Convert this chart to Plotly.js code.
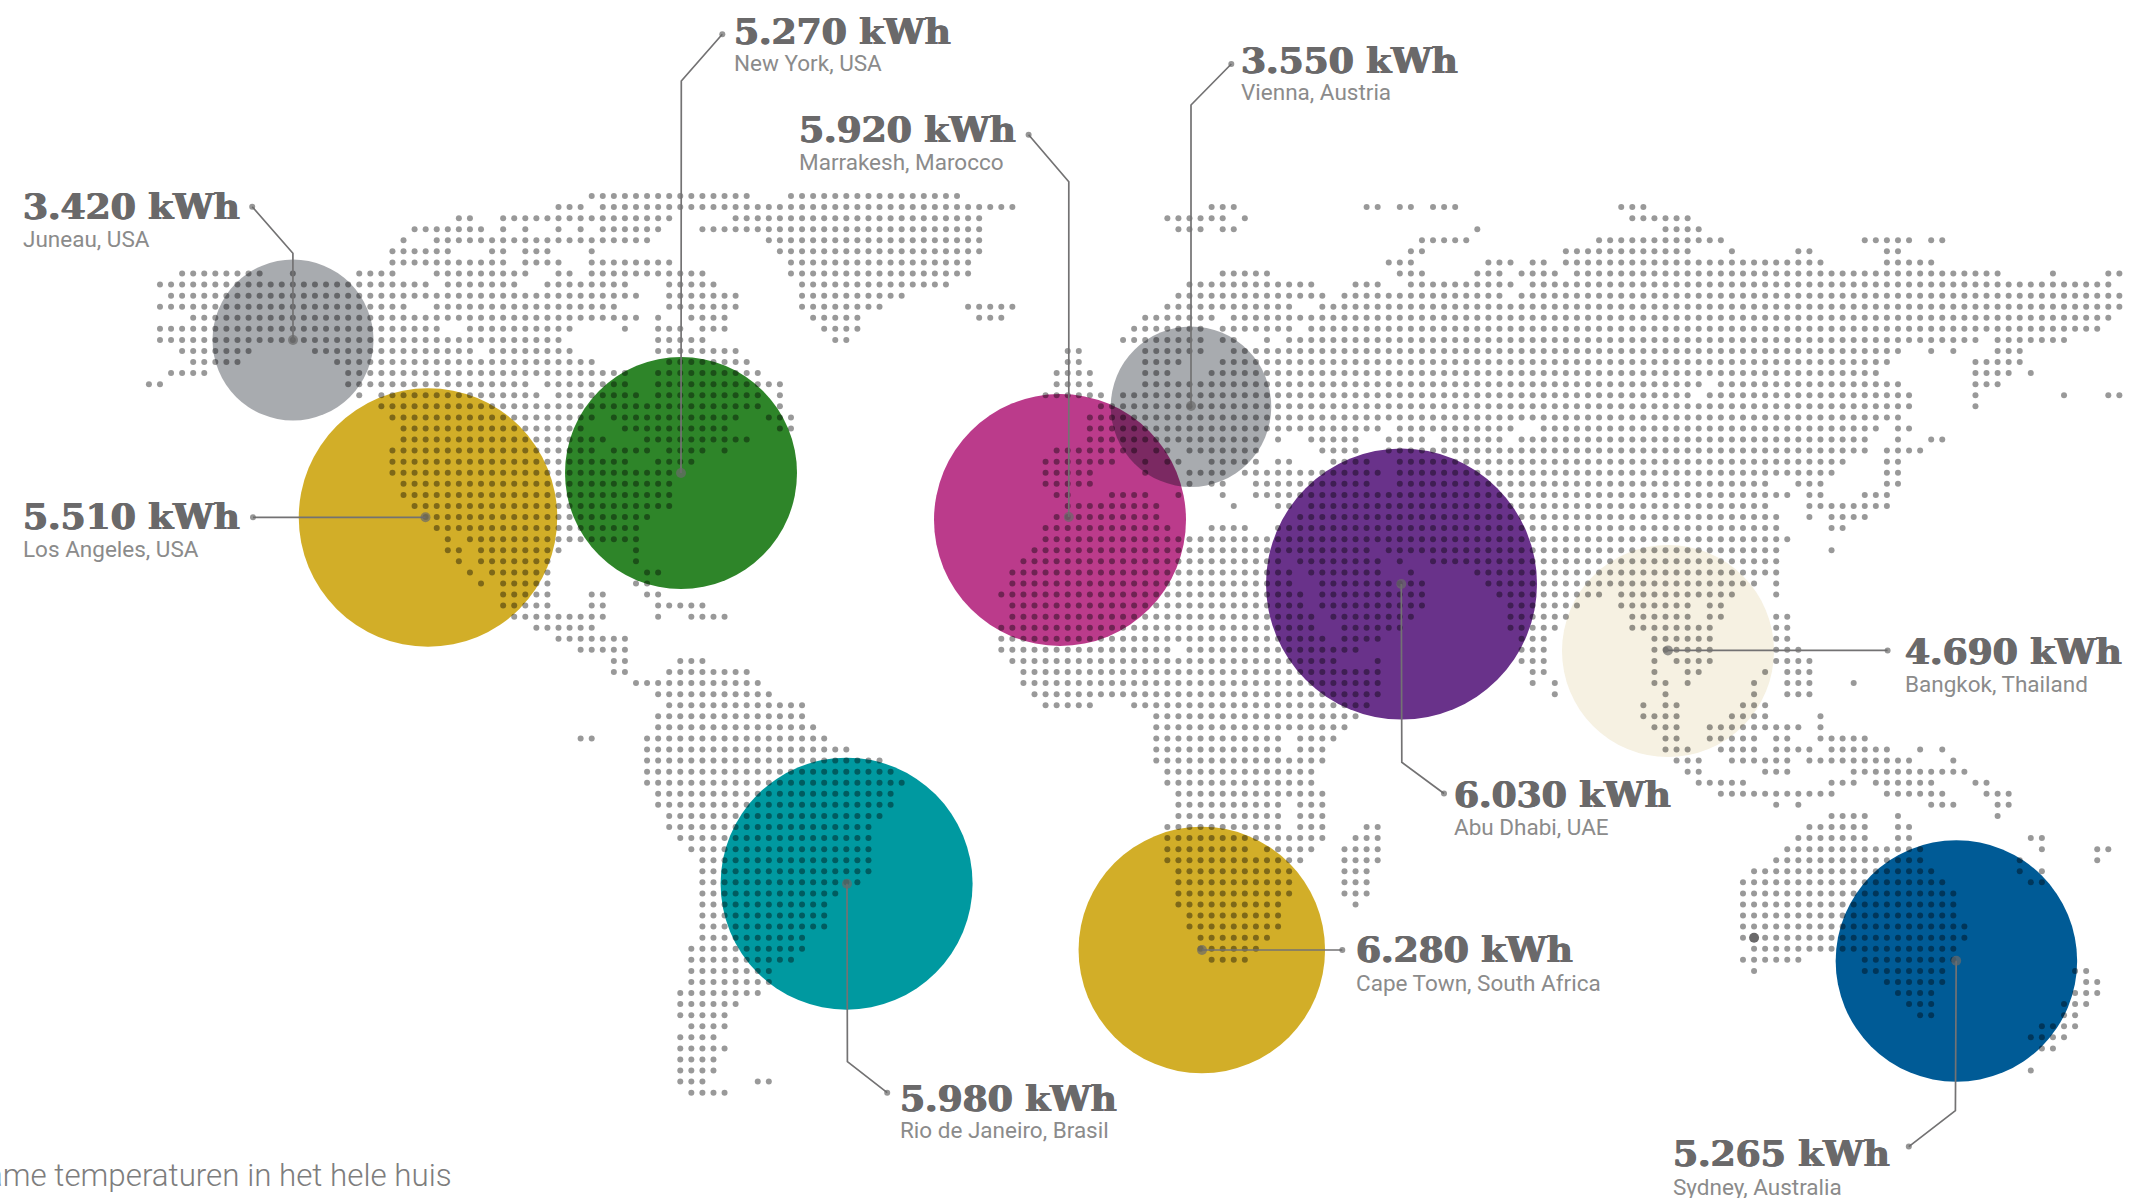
<!DOCTYPE html>
<html><head><meta charset="utf-8">
<script src="https://cdn.plot.ly/plotly-3.0.1.min.js"></script>
<style>html,body{margin:0;padding:0;background:#fff;overflow:hidden}#chart{width:2129px;height:1198px}</style>
</head><body><div id="chart"></div>
<script>
// Energy use per city
const cityNames = ["Juneau, USA","New York, USA","Marrakesh, Marocco","Vienna, Austria","Los Angeles, USA","Rio de Janeiro, Brasil","Cape Town, South Africa","Abu Dhabi, UAE","Bangkok, Thailand","Sydney, Australia"];
const cityKwh = [3420,5270,5920,3550,5510,5980,6280,6030,4690,5265];
const footerText = "ame temperaturen in het hele huis";

// bubble placement, size and colour, drawn back to front
const bubbleX = [293,681,1060,1191,428,846.6,1201.8,1401.5,1668,1956.4];
const bubbleY = [340,473,520,406.7,517.5,883.7,950,584,651,961];
const bubbleD = [161,232,252,160.5,258.5,252,246.5,271,212,241.5];
const bubbleColor = ["rgba(0,8,20,0.34)","#2e8529","#bb3b8b","rgba(0,8,20,0.34)","#d2ae28","#0099a0","#d2ae28","#69328a","#f6f1e2","#005b96"];

// leader lines: label end, optional bend, node in the bubble
const leaderX = [[252.2,292.9,293],[722.3,681.3,681],[1028.6,1068.8,1068.8],[1231.3,1191,1191],[253,425.5],[887.2,847.4,847],[1342.3,1202],[1444,1401.8,1401.3],[1887.6,1667.9],[1908.8,1955.4,1956.2]];
const leaderY = [[206.7,253.3,340],[34.3,81,473],[134.7,181.7,517],[64,105,406],[517.3,517.3],[1092.7,1061.7,883.7],[950,950],[793.5,762.3,584],[650.4,650.4],[1146.6,1110.7,960.7]];

// label placement: left edge and text baselines
const labelX = [22,733.2,797.9,1239.9,22,898.5,1354.5,1452.5,1903.9,1672.2];
const valueBase = [219,44,142,73,529.5,1111.7,962.5,807,664.5,1166.5];
const placeBase = [246.7,70.7,169,99.8,556,1137.7,990,834.7,691,1194.7];

// dot map: runs of occupied grid columns, one string per grid row
const gridLeft = 5, gridTop = 196, gridPitch = 11.07;
const mapRows = [
"53-67 71-86",
"50-52 54-91 109-111 123-124 126-127 129-131 146-148",
"41-42 45-60 66-88 105-110 112 147-152",
"37-43 45 47 50 52 54-59 63-88 106-108 110-111 133 150-153",
"36 39-58 69-88 128-132 144-155 168-172 174-175",
"35-40 44-45 47-49 53 70-88 127-128 141-152 156 162-163 170-171",
"35-45 47-50 53-60 71-87 125-127 134-136 138-139 141-164 170-174",
"16-23 26 32-35 39-47 50-51 53-63 71-87 110-114 126-128 133-135 137-140 142-180 185 190-191",
"14-38 40-46 49-56 60-64 72-85 107-118 122-124 127-136 138-190",
"15-57 60-66 72-81 106-119 121-135 137-191",
"14-36 39-55 60-66 72-79 87-91 105-116 119-191",
"17-57 59 62-65 73-77 88-90 103-109 111-190",
"14-39 42-51 56 59-61 63-65 74-77 102-108 110-116 118-189",
"14-50 59-63 75-76 101-108 110-111 114 116-178 180-186",
"16-22 28-42 44-51 59-66 96-97 103-108 111-171 174 176 180-182",
"17-21 30-53 60-67 96-97 103-106 110-170 178-182",
"15-18 31-56 59-68 95-98 103-105 109-169 178-181 183",
"13-14 31-47 49-56 59-70 95-98 103-153 155-171 178-180",
"32 34-48 50-57 59-68 70 94-99 101-152 154-172 178 186 190-191",
"34-68 70 99-172 178",
"35-53 55-66 69-71 98-171",
"36-52 56-65 70-71 98-124 126-136 139-169 171-172",
"36-54 58-67 98-113 115 118-122 125-128 130-135 137-168 171 174-175",
"35-53 55-58 60-63 65 95-102 104-105 107-113 119-122 125-168 170-173",
"35-56 59-62 94-100 103 105-106 109-113 115-116 120-123 126-166 170-171",
"35-60 94-98 103 107-110 112-124 126-165 170-171",
"36-60 94-98 107 109-110 113-123 126-159 162-164 170-171",
"36-60 95-96 100-103 106 110 113-161 163-164 168-170",
"37-60 96-104 111 115-116 118-159 163-170",
"38-58 95-104 117-160 163 165-168",
"39-57 94-105 109-112 115-160 165-166",
"40 42-57 94-161",
"40-41 43-50 57 93-123 125-160 165",
"41 43-49 57 92-115 117-124 126 129-160",
"42 44-49 58-59 91-116 118-124 127 133-160",
"43 45-49 57-58 91-116 119-128 134-158 160",
"45-49 53-54 58-59 90-117 119-128 135-144 146-156 160",
"45-49 53-54 59-63 91-117 119-128 136-142 146-152 154-155",
"46-54 59 62-65 91-118 120-127 136-141 147-152 154-155 160-161",
"48-53 90-118 121-126 136-140 147-154 160-161",
"50-56 90-119 121-124 137-139 149-154 160-161",
"52-56 90-105 107-122 137-139 149-154 160-162",
"55-56 61-63 91-120 124 137-139 149 151-154 160-163",
"55-56 60-67 92-124 138-139 149 152-153 159 161-163",
"57-68 92-124 138 140 149-150 152 158 161-163 167",
"59-69 93-124 140 150 158 161-163",
"60-72 94-98 102-123 148 150-151 157-159",
"59-72 104-122 148-151 156-159 164",
"59-73 104-121 149-151 154-162 164",
"52-53 58-74 104-115 117-120 150-151 154-158 160-161 164-168",
"58-76 104-115 117-119 150-152 155-158 160-163 165-170 173 175",
"58-79 104-119 151-153 156-161 163-172 176",
"58-80 105-118 152-153 159-161 167-177",
"58-81 105-118 153-157 165-167 169-174 178-179",
"59-80 106-119 155-165 170-175 179-181",
"59-80 106-115 117-119 160 162 174-176 180-181",
"60-79 106-115 117-119 165-168 171 180",
"60-78 105-115 117-119 123-124 163-168 171-172",
"61-78 105-119 122-124 162-168 171-172 183-184",
"62-78 105-112 114-118 121-124 161-173 184 189-190",
"63-78 105-117 121-124 160-173 182 189",
"63-78 106-116 121-123 158-174 182 184",
"63-77 106-116 121-123 157-175 183-184",
"63-75 106-116 121-123 157-176",
"63-74 106-115 122 157-176",
"63-74 107-115 157-176",
"63-74 107-115 157-177",
"63-72 108-114 157-177",
"62-72 108-113 158-176",
"62-71 109-112 157-162 168-176",
"62-69 158 168-175 187-188",
"62-69 170-175 188-189",
"61-68 171-174 187-189",
"61-66 172-174 186-188",
"61-65 173-174 186-187",
"62-65 184-187",
"61-64 183-186",
"61-65 184-185",
"61-64",
"61-64 183",
"61-63 68-69",
"62-65"
];
// one extra marker on the map, on grid column and row
const extraNodeCol = [158], extraNodeRow = [67];

// expand the runs to map points
const dotX = [], dotY = [];
mapRows.forEach((line, r) => line.split(" ").forEach(run => {
  const p = run.split("-").map(Number);
  for (let c = p[0]; c <= p[p.length - 1]; c++) { dotX.push(gridLeft + gridPitch * c); dotY.push(gridTop + gridPitch * r); }
}));

const inkColor = "#6a696a", placeColor = "#8b8b8b";
const valueFont = {family:"'DejaVu Serif', serif", size:36, color:inkColor, weight:700, shadow:"0.7px 0 0 #6a696a, -0.7px 0 0 #6a696a"};
const placeFont = {family:"'Liberation Sans Narrow', 'Roboto', sans-serif", size:22.5, color:placeColor};

const traces = [];
// Vienna must lie over Marrakesh, so bubbles keep their listed order
traces.push({type:"scatter", mode:"markers", x:bubbleX, y:bubbleY, hoverinfo:"skip",
  marker:{size:bubbleD, sizemode:"diameter", color:bubbleColor, line:{width:0}, opacity:1}});
traces.push({type:"scatter", mode:"markers", x:dotX, y:dotY, hoverinfo:"skip",
  marker:{size:6, color:"rgba(0,0,0,0.4)", line:{width:0}}});
cityNames.forEach((name, i) => {
  const n = leaderX[i].length;
  traces.push({type:"scatter", mode:"lines+markers", name, x:leaderX[i], y:leaderY[i], hoverinfo:"skip",
    line:{color:"#737273", width:1.7},
    marker:{color:inkColor, line:{width:0},
      size:leaderX[i].map((_, k) => k === 0 ? 6 : k === n - 1 ? 10 : 0.1)}});
});
traces.push({type:"scatter", mode:"markers", x:extraNodeCol.map(c => gridLeft + gridPitch * c), y:extraNodeRow.map(r => gridTop + gridPitch * r),
  hoverinfo:"skip", marker:{size:10, color:inkColor, line:{width:0}}});

const fmt = v => String(v).replace(/(\d)(\d{3})$/, "$1.$2") + " kWh";
const annotations = [];
cityNames.forEach((name, i) => {
  annotations.push({x:labelX[i], y:valueBase[i] - 13.5, xref:"x", yref:"y", xanchor:"left", yanchor:"middle", showarrow:false, borderpad:0, text:fmt(cityKwh[i]), font:valueFont});
  annotations.push({x:labelX[i], y:placeBase[i] - 7.5, xref:"x", yref:"y", xanchor:"left", yanchor:"middle", showarrow:false, borderpad:0, text:name, font:placeFont});
});
annotations.push({x:453, y:1175, xref:"x", yref:"y", xanchor:"right", yanchor:"middle", showarrow:false, borderpad:0, text:footerText,
  font:{family:"Roboto, sans-serif", size:31.3, color:"#7d7d7d", weight:300}});

Plotly.newPlot("chart", traces, {
  width:2129, height:1198, margin:{l:0,r:0,t:0,b:0}, showlegend:false,
  paper_bgcolor:"#fff", plot_bgcolor:"#fff",
  xaxis:{range:[0,2129], visible:false, fixedrange:true},
  yaxis:{range:[1198,0], visible:false, fixedrange:true},
  annotations
}, {displayModeBar:false, staticPlot:true});
</script></body></html>
